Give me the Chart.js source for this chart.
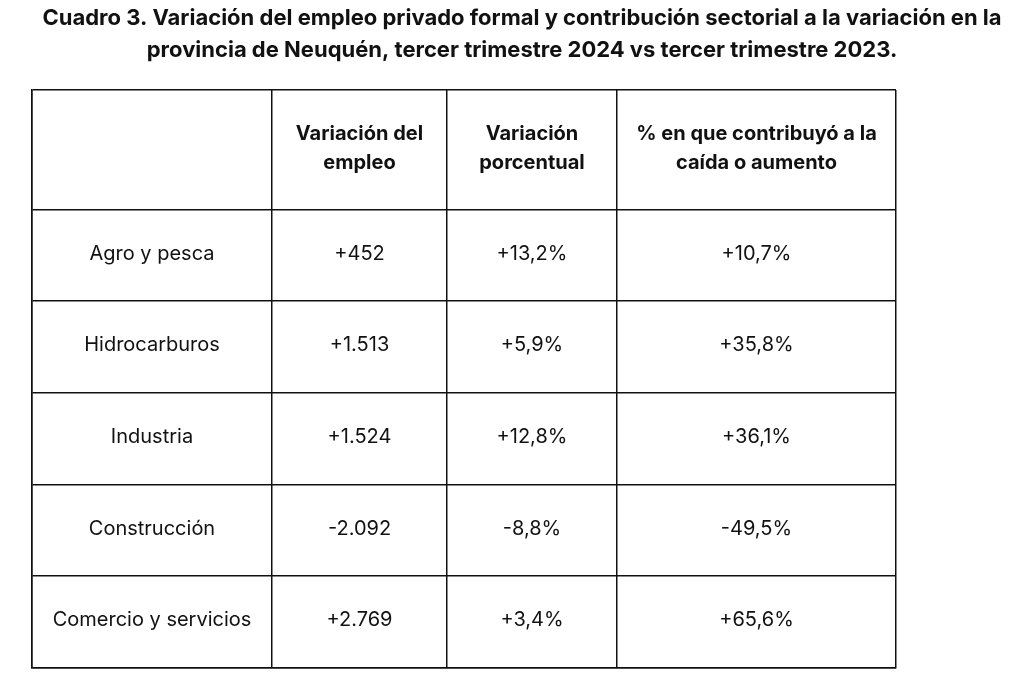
<!DOCTYPE html>
<html><head><meta charset="utf-8">
<script src="https://cdn.jsdelivr.net/npm/chart.js@4"></script>
<style>html,body{margin:0;background:#fff}#c{display:block}</style>
</head><body>
<div style="width:1024px;height:686px"><canvas id="c"></canvas></div>
<script>
const titleLines = ['Cuadro 3. Variación del empleo privado formal y contribución sectorial a la variación en la',
  'provincia de Neuquén, tercer trimestre 2024 vs tercer trimestre 2023.'];
const headers = [['', ''], ['Variación del', 'empleo'], ['Variación', 'porcentual'], ['% en que contribuyó a la', 'caída o aumento']];
const sectors = ['Agro y pesca', 'Hidrocarburos', 'Industria', 'Construcción', 'Comercio y servicios'];
const empleo = ['+452', '+1.513', '+1.524', '-2.092', '+2.769'];
const porcentual = ['+13,2%', '+5,9%', '+12,8%', '-8,8%', '+3,4%'];
const contribucion = ['+10,7%', '+35,8%', '+36,1%', '-49,5%', '+65,6%'];
const colEdges = [0, 240, 415, 585, 864];
const rowEdges = [0, 120, 211, 303, 395, 486, 578];

const cellPlugin = {
  id: 'cells',
  afterDraw(chart) {
    const ctx = chart.ctx, xs = chart.scales.x, ys = chart.scales.y;
    ctx.save();
    ctx.fillStyle = '#111';
    ctx.textAlign = 'center';
    ctx.textBaseline = 'middle';
    ctx.font = 'bold 22px Inter';
    ctx.fillText(titleLines[0], 522, 18, 980);
    ctx.fillText(titleLines[1], 522, 50, 980);
    const cx = i => xs.getPixelForValue((colEdges[i] + colEdges[i + 1]) / 2);
    const cy = r => ys.getPixelForValue((rowEdges[r] + rowEdges[r + 1]) / 2);
    ctx.font = 'bold 20px Inter';
    headers.forEach((h, i) => {
      ctx.fillText(h[0], cx(i), cy(0) - 16);
      ctx.fillText(h[1], cx(i), cy(0) + 13);
    });
    ctx.font = '20px Inter';
    const cols = [sectors, empleo, porcentual, contribucion];
    cols.forEach((col, i) => col.forEach((t, r) => ctx.fillText(t, cx(i), cy(r + 1) - 2)));
    ctx.restore();
  }
};

new Chart(document.getElementById('c'), {
  type: 'scatter',
  data: { datasets: [{ data: [], pointRadius: 0 }] },
  options: {
    responsive: true, maintainAspectRatio: false, animation: false,
    layout: { padding: { left: 32, right: 128, top: 90, bottom: 18 } },
    plugins: { legend: { display: false }, tooltip: { enabled: false } },
    scales: {
      x: {
        min: 0, max: 864,
        afterBuildTicks: s => { s.ticks = colEdges.map(v => ({ value: v })); },
        ticks: { display: false },
        grid: { color: '#111', lineWidth: 1.5, drawTicks: false },
        border: { color: '#111', width: 1.5 }
      },
      y: {
        min: 0, max: 578, reverse: true,
        afterBuildTicks: s => { s.ticks = rowEdges.map(v => ({ value: v })); },
        ticks: { display: false },
        grid: { color: '#111', lineWidth: 1.5, drawTicks: false },
        border: { color: '#111', width: 1.5 }
      }
    }
  },
  plugins: [cellPlugin]
});
</script>
</body></html>
